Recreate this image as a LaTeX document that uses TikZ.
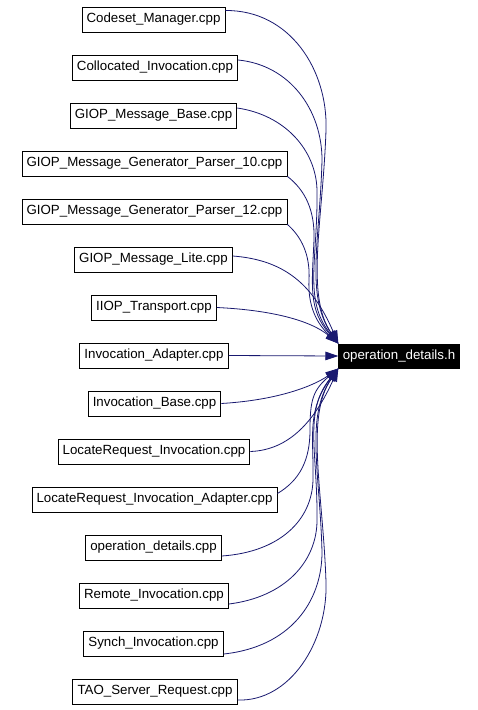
\documentclass[tikz,border=0pt]{standalone}
\usepackage{fontspec}
\setmainfont{Liberation Sans}
\usetikzlibrary{arrows.meta}
\definecolor{edgeblue}{RGB}{25,25,112}
\begin{document}
\begin{tikzpicture}[x=1pt,y=-1pt,
  filebox/.style={draw=black,line width=0.9pt,fill=white,minimum height=25pt,inner xsep=4.6pt,inner ysep=0pt,font=\fontsize{13.3}{16}\selectfont},
  targetbox/.style={draw=black,fill=black,text=white,line width=0.9pt,minimum height=24pt,inner xsep=4pt,inner ysep=0pt,font=\fontsize{13.3}{16}\selectfont},
  dep/.style={draw=edgeblue,line width=0.8pt,-{Triangle[length=13pt,width=8.5pt]},fill=none}]
\useasboundingbox (0,0) rectangle (478,710);
\fill[white] (0,0) rectangle (478,710);
\node[filebox] (b1) at (153.5,19.5) {Codeset\_Manager.cpp};
\node[filebox] (b2) at (155,67.5) {Collocated\_Invocation.cpp};
\node[filebox] (b3) at (153.5,115.5) {GIOP\_Message\_Base.cpp};
\node[filebox] (b4) at (154.5,163.5) {GIOP\_Message\_Generator\_Parser\_10.cpp};
\node[filebox] (b5) at (154.5,211.5) {GIOP\_Message\_Generator\_Parser\_12.cpp};
\node[filebox] (b6) at (153.5,259.5) {GIOP\_Message\_Lite.cpp};
\node[filebox] (b7) at (154,307.5) {IIOP\_Transport.cpp};
\node[filebox] (b8) at (154,355.5) {Invocation\_Adapter.cpp};
\node[filebox] (b9) at (154.5,403.5) {Invocation\_Base.cpp};
\node[filebox] (b10) at (154,451.5) {LocateRequest\_Invocation.cpp};
\node[filebox] (b11) at (154.5,499.5) {LocateRequest\_Invocation\_Adapter.cpp};
\node[filebox] (b12) at (153.5,547.5) {operation\_details.cpp};
\node[filebox] (b13) at (154,595.5) {Remote\_Invocation.cpp};
\node[filebox] (b14) at (153.5,643.5) {Synch\_Invocation.cpp};
\node[filebox] (b15) at (155,691.5) {TAO\_Server\_Request.cpp};
\node[targetbox] (t) at (399,356) {operation\_details.h};
% upper edges
\draw[dep] ([yshift=9pt]b1.east) .. controls (290,10) and (328,70) .. (326,130) .. controls (323,220) and (305,295) .. (t.north west);
\draw[dep] ([yshift=7.5pt]b2.east) .. controls (290,65) and (322,110) .. (322,160) .. controls (320,240) and (305,295) .. (t.north west);
\draw[dep] ([yshift=7.5pt]b3.east) .. controls (285,115) and (316,150) .. (317,190) .. controls (318,260) and (303,300) .. (t.north west);
\draw[dep] (b4.south east) .. controls (305,190) and (315,210) .. (314,240) .. controls (312,285) and (308,310) .. (t.north west);
\draw[dep] (b5.south east) .. controls (305,240) and (310,260) .. (309,280) .. controls (308,300) and (313,320) .. (t.north west);
\draw[dep] ([yshift=3.5pt]b6.east) .. controls (285,260) and (313,285) .. (t.north west);
\draw[dep] (b7.east) .. controls (270,310) and (310,320) .. (t.north west);
\draw[dep] (b8.east) -- (t.west);
% lower edges
\draw[dep] (b9.east) .. controls (280,400) and (315,385) .. (t.south west);
\draw[dep] (b10.east) .. controls (290,450) and (315,420) .. (t.south west);
\draw[dep] ([yshift=6pt]b11.east) .. controls (300,480) and (310,460) .. (310,430) .. controls (310,400) and (313,390) .. (t.south west);
\draw[dep] ([yshift=-8.5pt]b12.east) .. controls (280,552) and (312,520) .. (313,480) .. controls (314,440) and (306,410) .. (t.south west);
\draw[dep] ([yshift=-8.5pt]b13.east) .. controls (285,597) and (316,562) .. (317,522) .. controls (318,452) and (303,412) .. (t.south west);
\draw[dep] ([yshift=-10.5pt]b14.east) .. controls (290,647) and (322,602) .. (322,552) .. controls (320,472) and (305,417) .. (t.south west);
\draw[dep] ([yshift=-8.5pt]b15.east) .. controls (290,702) and (328,642) .. (326,582) .. controls (323,492) and (305,417) .. (t.south west);
\end{tikzpicture}
\end{document}
